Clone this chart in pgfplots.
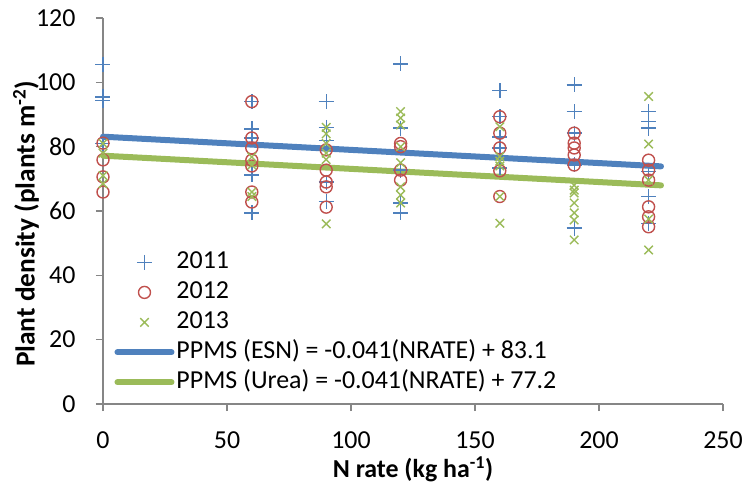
\documentclass[border=0pt]{standalone}
\usepackage{pgfplots}
\pgfplotsset{compat=1.18}
\usepackage{fontspec}
\setmainfont{Carlito}
\definecolor{cblue}{HTML}{4F81BD}
\definecolor{cred}{HTML}{C0504D}
\definecolor{cgreen}{HTML}{9BBB59}
\definecolor{caxis}{HTML}{868686}
\begin{document}
\begin{tikzpicture}
\begin{axis}[
  scale only axis, width=620bp, height=386bp,
  xmin=0, xmax=250, ymin=0, ymax=120,
  xtick={0,50,...,250}, ytick={0,20,...,120},
  axis x line=bottom, axis y line=left,
  axis line style={caxis, line width=1.2bp, -},
  tick style={caxis, line width=1.2bp},
  tick align=outside, major tick length=7bp,
  /pgf/number format/assume math mode=true,
  tick label style={font=\fontsize{26}{31}\selectfont},
  xticklabel style={anchor=north, yshift=-17bp},
  yticklabel style={anchor=east},
  yticklabel={\pgfmathprintnumber{\tick}\hspace*{17bp}},
  every axis x label/.style={at={(rel axis cs:0.5,0)}, anchor=center, yshift=-65bp},
  every axis y label/.style={at={(rel axis cs:0,0.5)}, anchor=center, rotate=90, yshift=77bp, xshift=-13bp},
  xlabel={\fontsize{26}{31}\selectfont\textbf{N rate (kg ha\textsuperscript{-1})}},
  ylabel={\fontsize{27.5}{31}\selectfont\textbf{Plant density (plants m\textsuperscript{-2})}},
  legend style={draw=none, fill=none, at={(rel axis cs:0.015,0.41)}, anchor=north west,
    row sep=1bp, font=\fontsize{26}{31}\selectfont, inner sep=2bp,
    nodes={text height=19bp, text depth=6bp}},
  legend cell align=left,
  legend image code/.code={\draw[mark repeat=2,mark phase=2,#1] plot coordinates {(0bp,0bp) (27bp,0bp) (54bp,0bp)};},
  clip=false,
]
\coordinate (O) at (rel axis cs:0,0);
\addplot[only marks, mark=+, mark size=7.5bp, cblue, line width=1.4bp] coordinates {
(0,105.5)(0,95.5)(0,94.3)(0,81)
(60,94)(60,85.5)(60,82.7)(60,71.2)(60,59.4)
(90,94)(90,86)(90,82)(90,69)(90,62.9)
(120,105.7)(120,85.8)(120,72.7)(120,62.5)(120,59.4)
(160,97.4)(160,89.3)(160,83)(160,79.6)(160,73.4)
(190,99.2)(190,90.9)(190,84.2)(190,74.3)(190,54.7)
(220,90.9)(220,87.8)(220,85.8)(220,72.2)(220,64.5)(220,56.2)
};
\addlegendentry{2011}
\addplot[only marks, mark=o, mark size=6bp, cred, line width=1.4bp] coordinates {
(0,81.1)(0,75.9)(0,70.6)(0,65.9)
(60,94)(60,82.7)(60,79.6)(60,75.8)(60,74)(60,65.9)(60,62.8)
(90,79)(90,72.7)(90,69)(90,67.5)(90,61.2)
(120,81)(120,80)(120,72.7)(120,69.6)
(160,89.3)(160,84.2)(160,79.6)(160,72.5)(160,64.5)
(190,84.2)(190,81.1)(190,79.6)(190,77.4)(190,74.3)
(220,75.8)(220,72.7)(220,69.6)(220,61.3)(220,58.2)(220,55.1)
};
\addlegendentry{2012}
\addplot[only marks, mark=x, mark size=6bp, cgreen, line width=1.4bp] coordinates {
(0,81)(0,78)(0,71)(0,68.5)
(60,76.8)(60,74.3)(60,65.9)(60,64.5)
(90,86)(90,84)(90,81)(90,78)(90,76)(90,56)
(120,90.9)(120,88.9)(120,86.7)(120,80)(120,75)(120,67.5)(120,65)(120,62.5)
(160,86.2)(160,76.9)(160,75.5)(160,74)(160,64.5)(160,56.2)
(190,68)(190,66.5)(190,65.6)(190,62.5)(190,59.4)(190,57.2)(190,51)
(220,95.6)(220,80.8)(220,69.6)(220,57.5)(220,47.9)
};
\addlegendentry{2013}
\addplot[cblue, line width=6bp, line cap=round, no marks] coordinates {(0,83.1)(225,73.875)};
\addlegendentry{PPMS (ESN) = -0.041(NRATE) + 83.1}
\addplot[cgreen, line width=6bp, line cap=round, no marks] coordinates {(0,77.2)(225,67.975)};
\addlegendentry{PPMS (Urea) = -0.041(NRATE) + 77.2}
\end{axis}
\pgfresetboundingbox
\path (O) ++(-103bp,-82bp) rectangle ++(742bp,486bp);
\end{tikzpicture}
\end{document}
